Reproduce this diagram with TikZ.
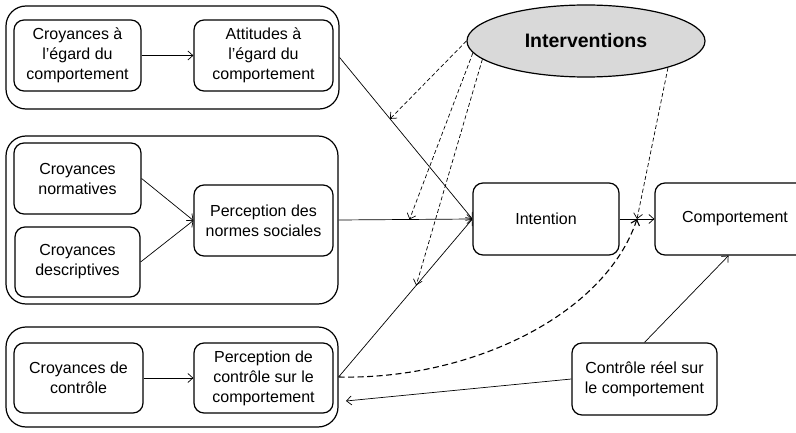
\documentclass[tikz,border=0pt]{standalone}
\usepackage{fontspec}
\setmainfont{Liberation Sans}
\usetikzlibrary{shapes.geometric,arrows.meta,calc}
\begin{document}
\begin{tikzpicture}[x=1pt,y=-1pt,
  every node/.style={font=\fontsize{16}{20}\selectfont},
  box/.style={draw,rounded corners=10pt,line width=1.2pt,align=center,inner sep=2pt},
  grp/.style={draw,rounded corners=20pt,line width=1.2pt},
  lnk/.style={-{Straight Barb[length=5pt,width=9pt]},line width=0.7pt},
  itv/.style={-{Straight Barb[length=5pt,width=9pt]},line width=0.7pt,dash pattern=on 4pt off 2.5pt}]
\useasboundingbox (0,0) rectangle (796,433);
\node[grp,minimum width=333pt,minimum height=103pt] (grpatt) at (172.5,57.5) {};
\node[grp,minimum width=332pt,minimum height=168pt] (grpnor) at (172,220) {};
\node[grp,minimum width=332pt,minimum height=100pt] (grpctl) at (172,377) {};
\node[box,minimum width=127pt,minimum height=71pt] (cab) at (77.5,55.5) {Croyances à\\l’égard du\\comportement};
\node[box,minimum width=139pt,minimum height=71pt] (att) at (263.5,55.5) {Attitudes à\\l’égard du\\comportement};
\node[box,minimum width=127pt,minimum height=71pt] (cno) at (77.5,178.5) {Croyances\\normatives};
\node[box,minimum width=125pt,minimum height=70pt] (cde) at (77.5,262) {Croyances\\descriptives};
\node[box,minimum width=139pt,minimum height=71pt] (pns) at (263.5,220.5) {Perception des\\normes sociales};
\node[box,minimum width=129pt,minimum height=70pt] (cco) at (78.5,378) {Croyances de\\contrôle};
\node[box,minimum width=139pt,minimum height=70pt] (pco) at (263.5,378) {Perception de\\contrôle sur le\\comportement};
\node[box,minimum width=146pt,minimum height=72pt] (int) at (546,219) {Intention};
\node[box,minimum width=160pt,minimum height=72pt] (com) at (735,219) {Comportement};
\node[box,minimum width=145pt,minimum height=72pt] (crc) at (644.5,379) {Contrôle réel sur\\le comportement};
\node[ellipse,draw,fill=gray!30,line width=1.2pt,minimum width=238pt,minimum height=72pt,
  font=\fontsize{19.5}{22}\selectfont\bfseries] (ell) at (586,41) {Interventions};
\coordinate (ic) at ($(int.east)!0.5!(com.west)$);
\coordinate (pcin) at (346,401);
\coordinate (tatt) at ($(grpatt.east)!0.38!(int.west)$);
\coordinate (tnor) at ($(grpnor.east)!0.53!(int.west)$);
\coordinate (tctl) at ($(grpctl.east)!0.58!(int.west)$);
\draw[lnk] (cab) -- (att);
\draw[lnk] (cno.east) -- (pns.west);
\draw[lnk] (cde.east) -- (pns.west);
\draw[lnk] (cco) -- (pco);
\draw[lnk] (grpatt.east) -- (int.west);
\draw[lnk] (grpnor.east) -- (int.west);
\draw[lnk] (grpctl.east) -- (int.west);
\draw[lnk] (int) -- (com);
\draw[lnk] (crc.north) -- (com.-100);
\draw[lnk] (crc.west) -- (pcin);
\draw[lnk,line width=1.1pt,dash pattern=on 6pt off 3.5pt] (grpctl.east) .. controls +(132,3) and +(-32,96) .. (ic);
\draw[itv] (ell.west) -- (tatt);
\draw[itv] (ell.186) -- (tnor);
\draw[itv] (ell.190) -- (tctl);
\draw[itv] (ell.-18) -- (ic);
\end{tikzpicture}
\end{document}
